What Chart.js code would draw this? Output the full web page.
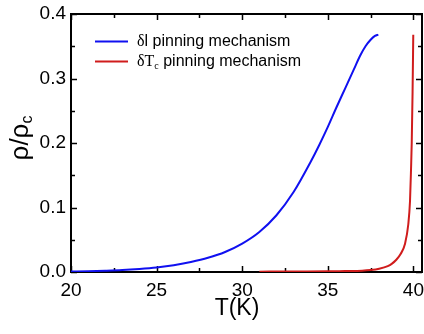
<!DOCTYPE html>
<html>
<head>
<meta charset="utf-8">
<script src="https://cdn.jsdelivr.net/npm/chart.js@4/dist/chart.umd.min.js"></script>
<style>
  html, body { margin: 0; padding: 0; background: #fff; }
  #wrap { width: 424px; height: 334px; }
</style>
</head>
<body>
<div id="wrap"><canvas id="grafico"></canvas></div>
<script>
// temperatures (K) and rho/rho_c
const tempDl = [20, 21, 22, 23, 24, 25, 26, 27, 28, 29, 30, 31, 32, 33, 34, 34.5, 35, 35.5, 36, 36.5, 36.9, 37.2, 37.5, 37.75, 37.95];
const rhoDl = [0.0008, 0.0013, 0.002, 0.003, 0.0047, 0.007, 0.0104, 0.0155, 0.022, 0.031, 0.044, 0.062, 0.088, 0.124, 0.171, 0.197, 0.225, 0.255, 0.284, 0.313, 0.336, 0.350, 0.360, 0.366, 0.368];

const tempDtc = [31, 33, 35, 36, 37, 37.5, 38, 38.5, 38.75, 39, 39.25, 39.5, 39.7, 39.8, 39.86, 39.9, 39.95, 39.99];
const rhoDtc = [0.0005, 0.0008, 0.001, 0.0015, 0.002, 0.003, 0.005, 0.009, 0.013, 0.019, 0.028, 0.043, 0.074, 0.11, 0.16, 0.2, 0.28, 0.368];

const xTicks = [20, 25, 30, 35, 40];
const xMinor = [22.5, 27.5, 32.5, 37.5];
const yTicks = [0, 0.1, 0.2, 0.3, 0.4];
const yMinor = [0.05, 0.15, 0.25, 0.35];

const azul = '#1010f0';
const vermelho = '#d01c1c';
const fonteSans = '"Liberation Sans", Arial, sans-serif';
const fonteSerif = '"Liberation Serif", "Times New Roman", serif';

function pontos(xs, ys) {
    return xs.map((x, i) => ({ x: x, y: ys[i] }));
}

// caixa, ticks internos, legenda e títulos
const moldura = {
    id: 'moldura',
    beforeDatasetsDraw(chart) {
        const ctx = chart.ctx;
        const a = chart.chartArea;
        const sx = chart.scales.x;
        const sy = chart.scales.y;
        ctx.save();
        ctx.strokeStyle = '#000';
        ctx.lineWidth = 2;
        ctx.strokeRect(a.left, a.top, a.right - a.left, a.bottom - a.top);
        ctx.lineWidth = 1.5;
        ctx.beginPath();
        const tickX = (v, len) => {
            const px = Math.round(sx.getPixelForValue(v)) + 0.5;
            ctx.moveTo(px, a.bottom); ctx.lineTo(px, a.bottom - len);
            ctx.moveTo(px, a.top); ctx.lineTo(px, a.top + len);
        };
        const tickY = (v, len) => {
            const py = Math.round(sy.getPixelForValue(v)) + 0.5;
            ctx.moveTo(a.left, py); ctx.lineTo(a.left + len, py);
            ctx.moveTo(a.right, py); ctx.lineTo(a.right - len, py);
        };
        xTicks.forEach(v => tickX(v, 6));
        xMinor.forEach(v => tickX(v, 4));
        yTicks.forEach(v => tickY(v, 6));
        yMinor.forEach(v => tickY(v, 4));
        ctx.stroke();
        ctx.restore();
    },
    afterDraw(chart) {
        const ctx = chart.ctx;
        ctx.save();
        ctx.fillStyle = '#000';
        ctx.textBaseline = 'middle';

        // legenda
        const itens = [
            { cor: azul, y: 41.5, partes: [['δ', fonteSerif, 0, 16], ['l pinning mechanism', fonteSans, 0, 16]] },
            { cor: vermelho, y: 61.5, partes: [['δT', fonteSerif, 0, 16], ['c', fonteSerif, 5, 10], [' pinning mechanism', fonteSans, 0, 16]] }
        ];
        itens.forEach(item => {
            ctx.strokeStyle = item.cor;
            ctx.lineWidth = 2;
            ctx.beginPath();
            ctx.moveTo(95, item.y);
            ctx.lineTo(128, item.y);
            ctx.stroke();
            let x = 137;
            item.partes.forEach(([txt, fam, dy, tam]) => {
                ctx.font = tam + 'px ' + fam;
                ctx.fillText(txt, x, item.y + dy);
                x += ctx.measureText(txt).width;
            });
        });

        // título do eixo x
        ctx.font = '23px ' + fonteSans;
        ctx.textAlign = 'center';
        ctx.fillText('T(K)', 237, 309);

        // título do eixo y: rho/rho_c
        ctx.translate(21, 138);
        ctx.rotate(-Math.PI / 2);
        ctx.font = '26px ' + fonteSans;
        const principal = 'ρ/ρ';
        const wp = ctx.measureText(principal).width;
        ctx.font = '16px ' + fonteSans;
        const wc = ctx.measureText('c').width;
        const x0 = -(wp + wc) / 2;
        ctx.textAlign = 'left';
        ctx.font = '26px ' + fonteSans;
        ctx.fillText(principal, x0, 0);
        ctx.font = '16px ' + fonteSans;
        ctx.fillText('c', x0 + wp, 7);
        ctx.restore();
    }
};

new Chart(document.getElementById('grafico'), {
    type: 'line',
    data: {
        datasets: [
            {
                label: 'δl pinning mechanism',
                data: pontos(tempDl, rhoDl),
                borderColor: azul,
                borderWidth: 2,
                pointRadius: 0,
                cubicInterpolationMode: 'monotone',
                fill: false
            },
            {
                label: 'δTc pinning mechanism',
                data: pontos(tempDtc, rhoDtc),
                borderColor: vermelho,
                borderWidth: 2,
                pointRadius: 0,
                cubicInterpolationMode: 'monotone',
                fill: false
            }
        ]
    },
    plugins: [moldura],
    options: {
        responsive: true,
        maintainAspectRatio: false,
        animation: false,
        events: [],
        layout: { padding: { left: 0, right: 2, top: 14, bottom: 0 } },
        plugins: {
            legend: { display: false },
            tooltip: { enabled: false }
        },
        scales: {
            x: {
                type: 'linear',
                min: 20,
                max: 40.5,
                afterFit: s => { s.height = 62; s.paddingLeft = 0; s.paddingRight = 0; },
                grid: { display: false, drawTicks: false },
                border: { display: false },
                ticks: {
                    stepSize: 5,
                    includeBounds: false,
                    padding: 7,
                    color: '#000',
                    font: { family: fonteSans, size: 19 },
                    maxRotation: 0
                }
            },
            y: {
                min: 0,
                max: 0.4,
                afterFit: s => { s.width = 71; s.paddingTop = 0; s.paddingBottom = 0; },
                grid: { display: false, drawTicks: false },
                border: { display: false },
                ticks: {
                    stepSize: 0.1,
                    padding: 5,
                    color: '#000',
                    font: { family: fonteSans, size: 19 },
                    callback: v => v.toFixed(1)
                }
            }
        }
    }
});
</script>
</body>
</html>
